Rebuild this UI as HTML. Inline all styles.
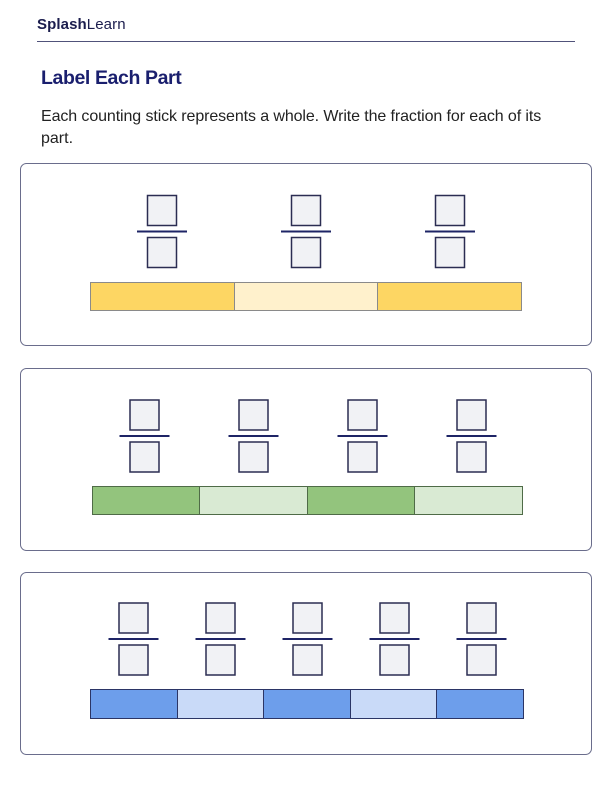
<!DOCTYPE html>
<html><head><meta charset="utf-8"><style>
html,body{margin:0;padding:0;background:#fff;}
svg{display:block;}
text{font-family:"Liberation Sans",sans-serif;}
</style></head><body>
<svg width="612" height="792" viewBox="0 0 612 792" xmlns="http://www.w3.org/2000/svg">
<text x="37" y="29" font-size="15" fill="#1b1d4d" font-weight="bold" letter-spacing="0.1">Splash<tspan font-weight="normal">Learn</tspan></text>
<line x1="37" y1="41.5" x2="575" y2="41.5" stroke="#50527a" stroke-width="1"/>
<text x="41" y="84" font-size="19.5" font-weight="bold" fill="#1a1f6e" letter-spacing="-0.4">Label Each Part</text>
<text x="41" y="121" font-size="16" fill="#222" letter-spacing="-0.1">Each counting stick represents a whole. Write the fraction for each of its</text>
<text x="41" y="143" font-size="16" fill="#222">part.</text>
<g fill="none" stroke="#6a6d8c" stroke-width="1">
<rect x="20.5" y="163.5" width="571" height="182" rx="6"/>
<rect x="20.5" y="368.5" width="571" height="182" rx="6"/>
<rect x="20.5" y="572.5" width="571" height="182" rx="6"/>
</g>
<defs>
<g id="fr">
<rect x="-14.5" y="0" width="29" height="30" fill="#f1f2f5" stroke="#2b2d52" stroke-width="1.5"/>
<line x1="-25" y1="36" x2="25" y2="36" stroke="#1e2466" stroke-width="2"/>
<rect x="-14.5" y="42" width="29" height="30" fill="#f1f2f5" stroke="#2b2d52" stroke-width="1.5"/>
</g>
</defs>
<use href="#fr" x="162" y="195.5"/>
<use href="#fr" x="306" y="195.5"/>
<use href="#fr" x="450" y="195.5"/>
<g stroke="#8a8a8a" stroke-width="1">
<rect x="90.5" y="282.5" width="144" height="28" fill="#fdd663"/>
<rect x="234.5" y="282.5" width="143" height="28" fill="#fff1cc"/>
<rect x="377.5" y="282.5" width="144" height="28" fill="#fdd663"/>
</g>
<use href="#fr" x="144.5" y="400"/>
<use href="#fr" x="253.5" y="400"/>
<use href="#fr" x="362.5" y="400"/>
<use href="#fr" x="471.5" y="400"/>
<g stroke="#4f6b47" stroke-width="1">
<rect x="92.5" y="486.5" width="107" height="28" fill="#93c47d"/>
<rect x="199.5" y="486.5" width="108" height="28" fill="#d9ead3"/>
<rect x="307.5" y="486.5" width="107" height="28" fill="#93c47d"/>
<rect x="414.5" y="486.5" width="108" height="28" fill="#d9ead3"/>
</g>
<use href="#fr" x="133.5" y="603"/>
<use href="#fr" x="220.5" y="603"/>
<use href="#fr" x="307.5" y="603"/>
<use href="#fr" x="394.5" y="603"/>
<use href="#fr" x="481.5" y="603"/>
<g stroke="#2b3566" stroke-width="1">
<rect x="90.5" y="689.5" width="87" height="29" fill="#6d9eeb"/>
<rect x="177.5" y="689.5" width="86" height="29" fill="#c9daf8"/>
<rect x="263.5" y="689.5" width="87" height="29" fill="#6d9eeb"/>
<rect x="350.5" y="689.5" width="86" height="29" fill="#c9daf8"/>
<rect x="436.5" y="689.5" width="87" height="29" fill="#6d9eeb"/>
</g>
</svg>
</body></html>
